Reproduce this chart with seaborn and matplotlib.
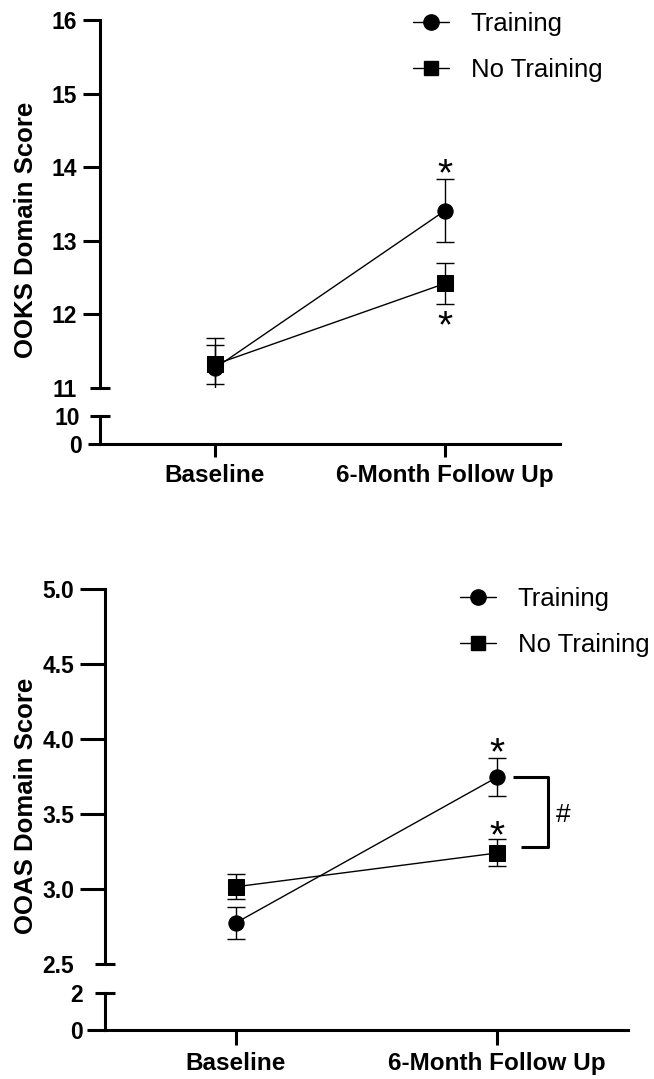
import pandas as pd
import seaborn as sns
import matplotlib.pyplot as plt
from matplotlib.lines import Line2D

sns.set_theme(style="ticks")
plt.rcParams['font.family'] = ['Liberation Sans', 'DejaVu Sans']
plt.rcParams['font.weight'] = 'bold'
plt.rcParams['text.color'] = 'black'
plt.rcParams['xtick.color'] = 'black'
plt.rcParams['ytick.color'] = 'black'
plt.rcParams['axes.labelcolor'] = 'black'

# data (mean +/- SEM)
timepoints = ["Baseline", "6-Month Follow Up"]
groups = ["Training", "No Training"]

ooks_training = [11.27, 13.41]
ooks_training_sem = [0.41, 0.43]
ooks_no_training = [11.32, 12.42]
ooks_no_training_sem = [0.27, 0.28]

ooas_training = [2.775, 3.745]
ooas_training_sem = [0.105, 0.125]
ooas_no_training = [3.015, 3.24]
ooas_no_training_sem = [0.085, 0.09]

ooks_yticks = [12, 13, 14, 15, 16]
ooks_yticklabels = ["12", "13", "14", "15", "16"]
ooas_yticks = [3.0, 3.5, 4.0, 4.5, 5.0]
ooas_yticklabels = ["3.0", "3.5", "4.0", "4.5", "5.0"]

W, H = 654, 1079
LW = 2.2
fig = plt.figure(figsize=(W / 100, H / 100), dpi=100)


def px_axes(left, top, right, bottom):
    return fig.add_axes([left / W, 1 - bottom / H, (right - left) / W, (bottom - top) / H])


def draw_series(ax, tr, tr_sem, nt, nt_sem):
    df = pd.DataFrame({
        "time": [0, 1, 0, 1],
        "score": tr + nt,
        "sem": tr_sem + nt_sem,
        "group": [groups[0]] * 2 + [groups[1]] * 2,
    })
    for g, sub in df.groupby("group"):
        ax.errorbar(sub["time"], sub["score"], yerr=sub["sem"], fmt="none",
                    ecolor="black", elinewidth=1, capsize=6.5, capthick=1, zorder=2)
    sns.lineplot(data=df, x="time", y="score", style="group",
                 markers={groups[0]: "o", groups[1]: "s"}, dashes=False,
                 color="black", linewidth=1, markersize=11,
                 markeredgecolor="black", legend=False, ax=ax, zorder=3)


def style_axes(ax_main, ax_low, cfg):
    # upper segment
    ax_main.set_ylim(cfg["ylim"])
    ax_main.set_xlim(cfg["xlim"])
    ax_main.set_xticks([])
    ax_main.set_yticks(cfg["yticks"], labels=cfg["yticklabels"])
    ax_main.set_yticks([cfg["ylim"][0]], labels=[cfg["brk_label"]], minor=True)
    ax_main.tick_params(axis="y", which="major", direction="out", length=cfg["tick_len"],
                        width=LW, pad=cfg["pad"], labelsize=16.5)
    ax_main.tick_params(axis="y", which="minor", direction="inout", length=cfg["brk_len"],
                        width=LW, pad=cfg["brk_pad"], labelsize=16.5)
    ax_main.set_xlabel("")
    ax_main.set_ylabel("")
    for s in ["top", "right", "bottom"]:
        ax_main.spines[s].set_visible(False)
    ax_main.spines["left"].set_linewidth(LW)
    ax_main.spines["left"].set_color("black")
    ax_main.patch.set_alpha(0)

    # lower segment
    ax_low.set_ylim(cfg["low_ylim"])
    ax_low.set_xlim(cfg["xlim"])
    ax_low.set_yticks([0], labels=["0"])
    ax_low.set_yticks([cfg["low_ylim"][1]], labels=[cfg["low_label"]], minor=True)
    ax_low.tick_params(axis="y", which="major", direction="out", length=cfg["zero_len"],
                       width=LW, pad=cfg["zero_pad"], labelsize=16.5)
    ax_low.tick_params(axis="y", which="minor", direction="inout", length=cfg["brk_len"],
                       width=LW, pad=cfg["low_pad"], labelsize=16.5)
    ax_low.set_xticks([0, 1], labels=timepoints)
    ax_low.tick_params(axis="x", direction="out", length=cfg["xtick_len"], width=LW,
                       pad=5, labelsize=17.5)
    for s in ["top", "right"]:
        ax_low.spines[s].set_visible(False)
    for s in ["left", "bottom"]:
        ax_low.spines[s].set_linewidth(LW)
        ax_low.spines[s].set_color("black")


def add_legend(x, y):
    handles = [Line2D([], [], color="black", lw=1, marker="o", markersize=11),
               Line2D([], [], color="black", lw=1, marker="s", markersize=10.5)]
    fig.legend(handles, groups, loc="upper left", bbox_to_anchor=(x / W, 1 - y / H),
               frameon=False, prop={"size": 18.5, "weight": "normal"},
               handlelength=1.4, handletextpad=0.85, labelspacing=0.85,
               borderpad=0, borderaxespad=0)


def star(ax, x, y, dy):
    ax.annotate("*", xy=(x, y), xytext=(0, dy), textcoords="offset pixels",
                ha="center", va="baseline", fontsize=28, fontweight="normal",
                annotation_clip=False)


# ---- OOKS panel ----
ax1 = px_axes(100, 20, 560, 388)
ax1_low = px_axes(100, 416, 560, 444)
draw_series(ax1, ooks_training, ooks_training_sem, ooks_no_training, ooks_no_training_sem)
style_axes(ax1, ax1_low, dict(
    ylim=(11, 16), xlim=(-0.5, 1.5), yticks=ooks_yticks, yticklabels=ooks_yticklabels,
    brk_label="11", tick_len=12.2, pad=4.3, brk_len=13.7, brk_pad=9.7,
    low_ylim=(0, 10), low_label="10", zero_len=8.6, zero_pad=4.3, low_pad=7.6,
    xtick_len=9.4))
fig.text(26 / W, 1 - 230 / H, "OOKS Domain Score", rotation=90, ha="center",
         va="center", fontsize=18.5, fontweight="bold")
star(ax1, 1, ooks_training[1] + ooks_training_sem[1], -6)
star(ax1, 1, ooks_no_training[1] - ooks_no_training_sem[1], -33)
add_legend(413, 12)

# ---- OOAS panel ----
ax2 = px_axes(105, 589, 628, 964)
ax2_low = px_axes(105, 993, 628, 1030)
draw_series(ax2, ooas_training, ooas_training_sem, ooas_no_training, ooas_no_training_sem)
style_axes(ax2, ax2_low, dict(
    ylim=(2.5, 5.0), xlim=(-0.502, 1.502), yticks=ooas_yticks, yticklabels=ooas_yticklabels,
    brk_label="2.5", tick_len=18, pad=4.3, brk_len=15.1, brk_pad=14.8,
    low_ylim=(0, 2), low_label="2", zero_len=13, zero_pad=2.9, low_pad=8.3,
    xtick_len=10.8))
fig.text(26 / W, 1 - 806 / H, "OOAS Domain Score", rotation=90, ha="center",
         va="center", fontsize=18.5, fontweight="bold")
star(ax2, 1, ooas_training[1] + ooas_training_sem[1], -6)
star(ax2, 1, ooas_no_training[1] + ooas_no_training_sem[1], -8)

# significance bracket between groups at follow up
y_top = ooas_training[1]
y_bot = ooas_no_training[1] + 0.04
ax2.plot([1.061, 1.195, 1.195, 1.092], [y_top, y_top, y_bot, y_bot],
         color="black", lw=LW, clip_on=False, solid_capstyle="butt")
ax2.text(1.253, (y_top + y_bot) / 2 - 0.02, "#", ha="center", va="center",
         fontsize=19, fontweight="normal")
add_legend(460, 587)

fig.savefig("out.png", dpi=100)
